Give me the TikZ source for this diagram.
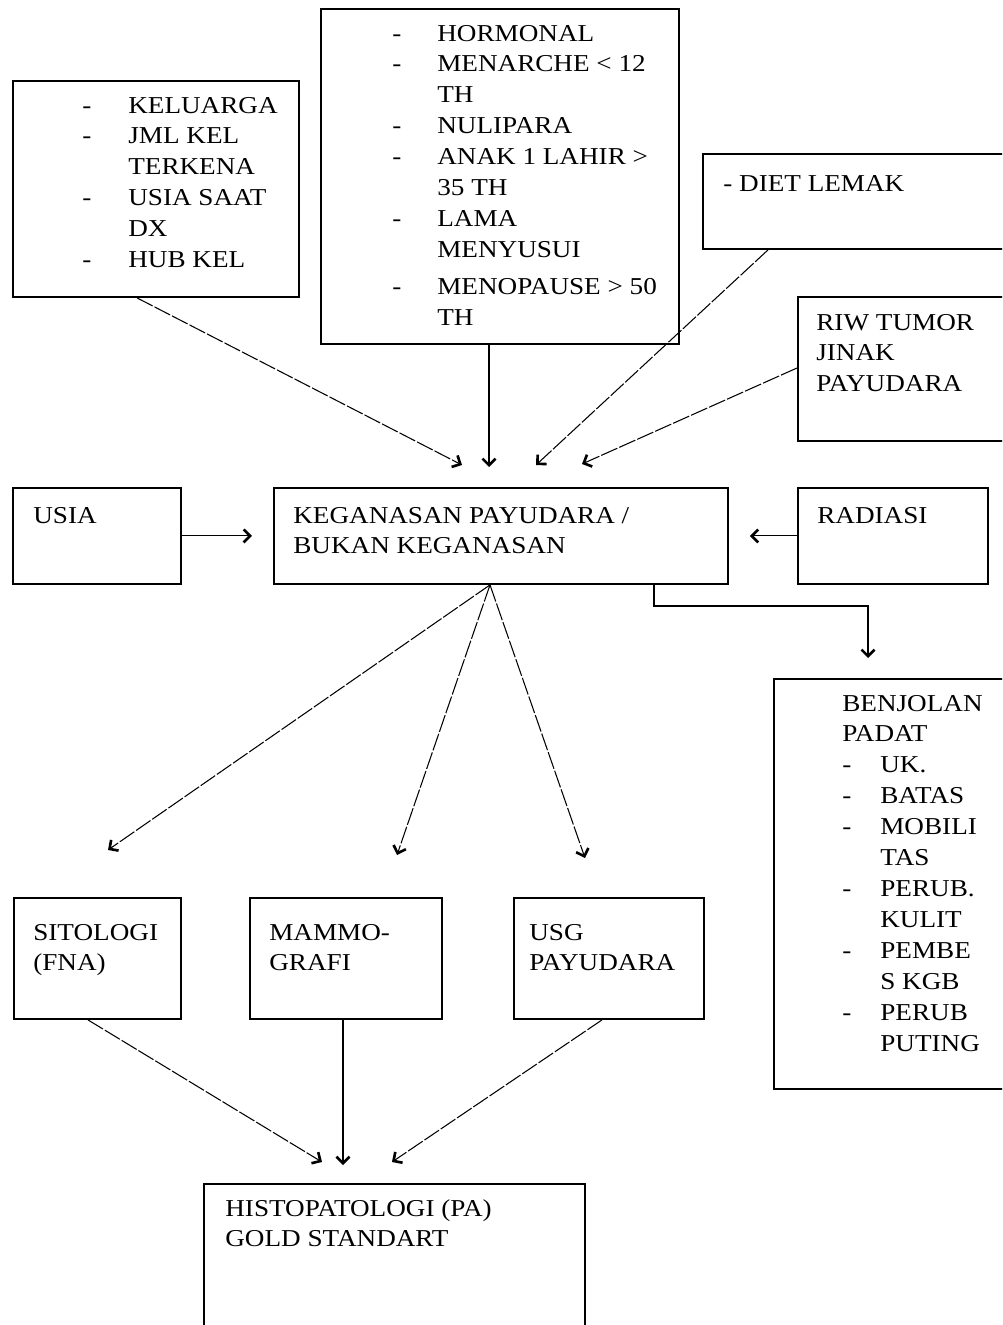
\documentclass[tikz,border=0pt]{standalone}
\usepackage{fontspec}
\setmainfont{Liberation Serif}[FakeStretch=1.12]
\usepackage{tikz}
\usetikzlibrary{calc, arrows.meta}
\tikzstyle{arrow} = [line width=0.6pt,->,>={Straight Barb[length=1.3mm, width=2.6mm, line width=1.5pt]}]
\tikzstyle{broken} = [dash pattern=on 10pt off 1.2pt]

\begin{document}
\begin{tikzpicture}[x=0.02cm, y=-0.02cm,
		every node/.style={font=\fontsize{13.8}{17.6}\selectfont},
		box/.style={
			rectangle,
			draw,
			line width=1.1pt,
			anchor=north west,
			inner sep=0pt},
		txt/.style={anchor=base west, inner sep=0pt}]

		\useasboundingbox (0,0) rectangle (1002,1325);
		\clip (0,0) rectangle (1002,1325);

		\node (kel) [box, minimum width=5.72cm, minimum height=4.32cm] at (12,80) {};
		\node (hor) [box, minimum width=7.16cm, minimum height=6.7cm] at (320,8) {};
		\node (diet) [box, minimum width=6.2cm, minimum height=1.9cm] at (702,153) {};
		\node (riw) [box, minimum width=4.3cm, minimum height=2.88cm] at (797,296) {};
		\node (usia) [box, minimum width=3.36cm, minimum height=1.92cm] at (12,487) {};
		\node (keg) [box, minimum width=9.08cm, minimum height=1.92cm] at (273,487) {};
		\node (rad) [box, minimum width=3.8cm, minimum height=1.92cm] at (797,487) {};
		\node (benj) [box, minimum width=4.8cm, minimum height=8.2cm] at (773,678) {};
		\node (sit) [box, minimum width=3.34cm, minimum height=2.42cm] at (13,897) {};
		\node (mam) [box, minimum width=3.84cm, minimum height=2.42cm] at (249,897) {};
		\node (usg) [box, minimum width=3.8cm, minimum height=2.42cm] at (513,897) {};
		\node (his) [box, minimum width=7.62cm, minimum height=3.3cm] at (203,1183) {};

		\node (keltext) [txt] at (82,113) {\begin{tabular}[t]{@{}p{0.92cm}@{}l@{}}
			- & KELUARGA \\
			- & JML KEL \\
			  & TERKENA \\
			- & USIA SAAT \\
			  & DX \\
			- & HUB KEL
		\end{tabular}};
		\node (hortext) [txt] at (392,41) {\begin{tabular}[t]{@{}p{0.9cm}@{}l@{}}
			- & HORMONAL \\
			- & MENARCHE < 12 \\
			  & TH \\
			- & NULIPARA \\
			- & ANAK 1 LAHIR > \\
			  & 35 TH \\
			- & LAMA \\
			  & MENYUSUI \\[0.12cm]
			- & MENOPAUSE > 50 \\
			  & TH
		\end{tabular}};
		\node (diettext) [txt] at (723,191) {- DIET LEMAK};
		\node (riwtext) [txt] at (816,330) {\begin{tabular}[t]{@{}l@{}}
			RIW TUMOR \\ JINAK \\ PAYUDARA
		\end{tabular}};
		\node (usiatext) [txt] at (33,523) {USIA};
		\node (kegtext) [txt] at (293,523) {\begin{tabular}[t]{@{}l@{}}
			KEGANASAN PAYUDARA / \\ BUKAN KEGANASAN
		\end{tabular}};
		\node (radtext) [txt] at (817,523) {RADIASI};
		\node (benjtext) [txt] at (842,711) {\begin{tabular}[t]{@{}p{0.76cm}@{}l@{}}
			\multicolumn{2}{@{}l@{}}{BENJOLAN} \\
			\multicolumn{2}{@{}l@{}}{PADAT} \\
			- & UK. \\
			- & BATAS \\
			- & MOBILI \\
			  & TAS \\
			- & PERUB. \\
			  & KULIT \\
			- & PEMBE \\
			  & S KGB \\
			- & PERUB \\
			  & PUTING
		\end{tabular}};
		\node (sittext) [txt] at (33,940) {\begin{tabular}[t]{@{}l@{}}
			SITOLOGI \\ (FNA)
		\end{tabular}};
		\node (mamtext) [txt] at (269,940) {\begin{tabular}[t]{@{}l@{}}
			MAMMO- \\ GRAFI
		\end{tabular}};
		\node (usgtext) [txt] at (529,940) {\begin{tabular}[t]{@{}l@{}}
			USG \\ PAYUDARA
		\end{tabular}};
		\node (histext) [txt] at (225,1216) {\begin{tabular}[t]{@{}l@{}}
			HISTOPATOLOGI (PA) \\ GOLD STANDART
		\end{tabular}};

		\draw[arrow, broken] ($(kel.south west)+(125,0)$) -- ($(keg.north west)+(189,-22)$);
		\draw[arrow] ($(hor.south west)+(169,0)$) -- ($(keg.north west)+(216,-20)$);
		\draw[arrow, broken] ($(diet.south west)+(66,0)$) -- ($(keg.north west)+(263,-22)$);
		\draw[arrow, broken] ($(riw.north west)+(0,72)$) -- ($(keg.north west)+(309,-23)$);
		\draw[arrow] (usia.east) -- ($(keg.west)+(-21,0)$);
		\draw[arrow] (rad.west) -- ($(keg.east)+(21,0)$);
		\draw[arrow] ($(keg.south west)+(381,0)$) |- ($(benj.north west)+(95,-72)$) -- ($(benj.north west)+(95,-20)$);

		\draw[arrow, broken] ($(keg.south west)+(217,0)$) -- ($(sit.north west)+(95,-47)$);
		\draw[arrow, broken] ($(keg.south west)+(217,0)$) -- ($(mam.north west)+(148,-42)$);
		\draw[arrow, broken] ($(keg.south west)+(217,0)$) -- ($(usg.north west)+(72,-39)$);

		\draw[arrow, broken] ($(sit.south west)+(75,0)$) -- ($(his.north west)+(119,-21)$);
		\draw[arrow] ($(mam.south west)+(94,0)$) -- ($(his.north west)+(140,-18)$);
		\draw[arrow, broken] ($(usg.south west)+(89,0)$) -- ($(his.north west)+(189,-21)$);
	\end{tikzpicture}
\end{document}
